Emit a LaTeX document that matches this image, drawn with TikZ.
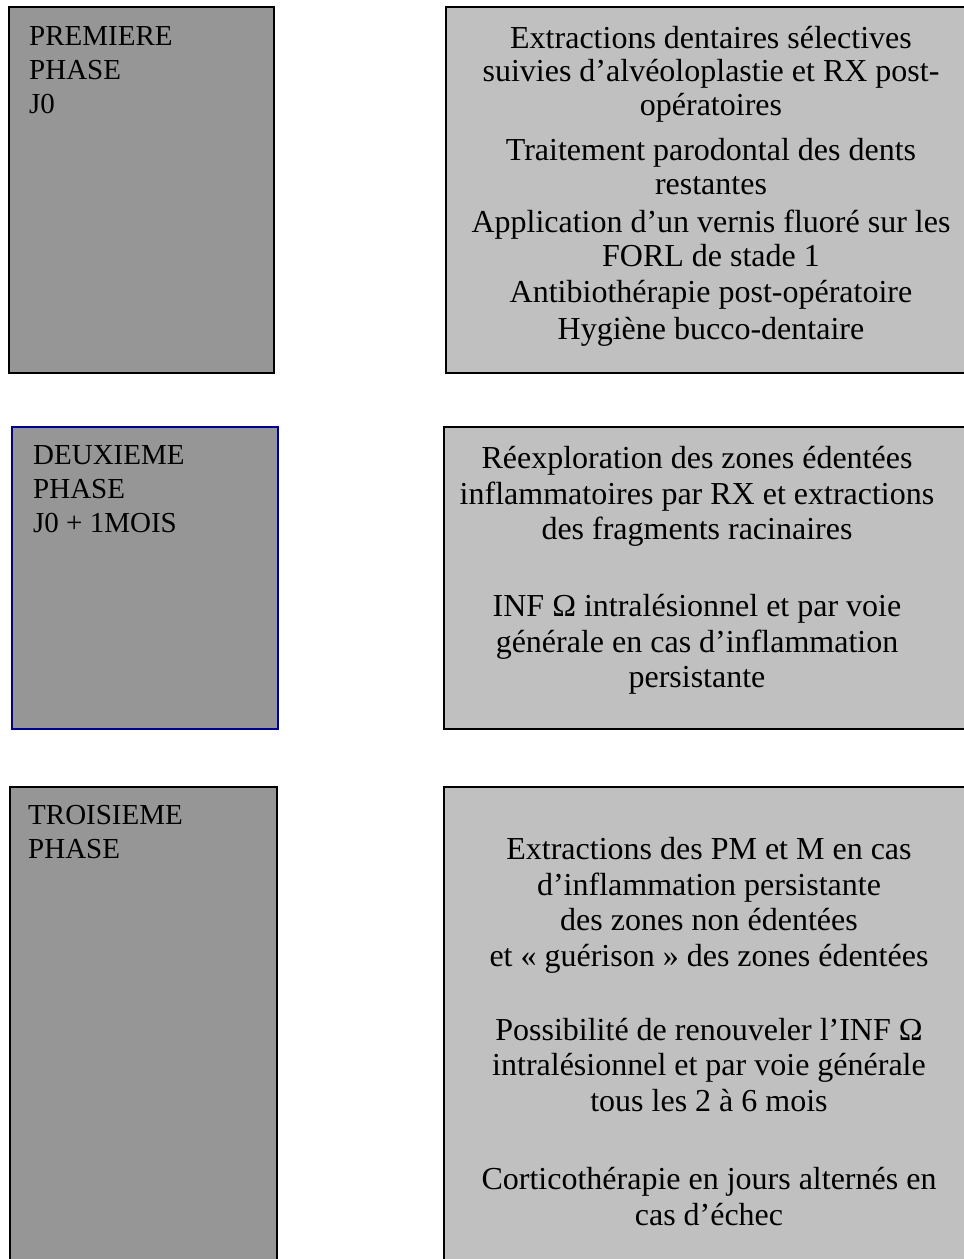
\documentclass[tikz,border=0pt]{standalone}
\usepackage{fontspec}
\setmainfont{Liberation Serif}
\definecolor{phasegray}{RGB}{150,150,150}
\definecolor{caregray}{RGB}{192,192,192}
\definecolor{phaseblue}{RGB}{0,0,140}
\begin{document}
\begin{tikzpicture}[x=1pt, y=-1pt,
phase/.style = {rectangle, draw=black, line width=1.5pt, fill=phasegray, anchor=north west, inner sep=0pt},
care/.style = {rectangle, draw=black, line width=1.5pt, fill=caregray, anchor=north west, inner sep=0pt},
phasetext/.style = {anchor=north west, align=left, inner sep=0pt, font=\fontsize{29}{34}\selectfont},
caretext/.style = {anchor=north, align=center, inner sep=0pt, font=\fontsize{32}{35.7}\selectfont}]
\useasboundingbox (0,0) rectangle (964,1259);
\clip (0,0) rectangle (964,1259);
% phases
\node[phase, minimum width=265, minimum height=366] at (8,6) (ph1) {};
\node[care, minimum width=531, minimum height=366] at (445,6) (ca1) {};
\node[phase, draw=phaseblue, minimum width=266, minimum height=302] at (11,426) (ph2) {};
\node[care, minimum width=533, minimum height=302] at (443,426) (ca2) {};
\node[phase, minimum width=267, minimum height=520] at (9,786) (ph3) {};
\node[care, minimum width=533, minimum height=520] at (443,786) (ca3) {};
% texts
\node[phasetext] at ([shift={(21,20)}]ph1.north west) (ph1txt) {PREMIERE\\PHASE\\J0};
\node[phasetext] at ([shift={(22,19)}]ph2.north west) (ph2txt) {DEUXIEME\\PHASE\\J0 + 1MOIS};
\node[phasetext] at ([shift={(19,19)}]ph3.north west) (ph3txt) {TROISIEME\\PHASE};
\node[caretext, font=\fontsize{32}{33.5}\selectfont] at (711,26) (ca1txt) {Extractions dentaires sélectives\\
suivies d’alvéoloplastie et RX post-\\
opératoires\\[12pt]
Traitement parodontal des dents\\
restantes\\[5pt]
Application d’un vernis fluoré sur les\\
FORL de stade 1\\[3pt]
Antibiothérapie post-opératoire\\[3pt]
Hygiène bucco-dentaire};
\node[caretext] at (697,446) (ca2txt) {Réexploration des zones édentées\\
inflammatoires par RX et extractions\\
des fragments racinaires\\[41pt]
INF Ω intralésionnel et par voie\\
générale en cas d’inflammation\\
persistante};
\node[caretext] at (709,837) (ca3txt) {Extractions des PM et M en cas\\
d’inflammation persistante\\
des zones non édentées\\
et « guérison » des zones édentées\\[38pt]
Possibilité de renouveler l’INF Ω\\
intralésionnel et par voie générale\\
tous les 2 à 6 mois\\[42pt]
Corticothérapie en jours alternés en\\
cas d’échec};
\end{tikzpicture}
\end{document}
